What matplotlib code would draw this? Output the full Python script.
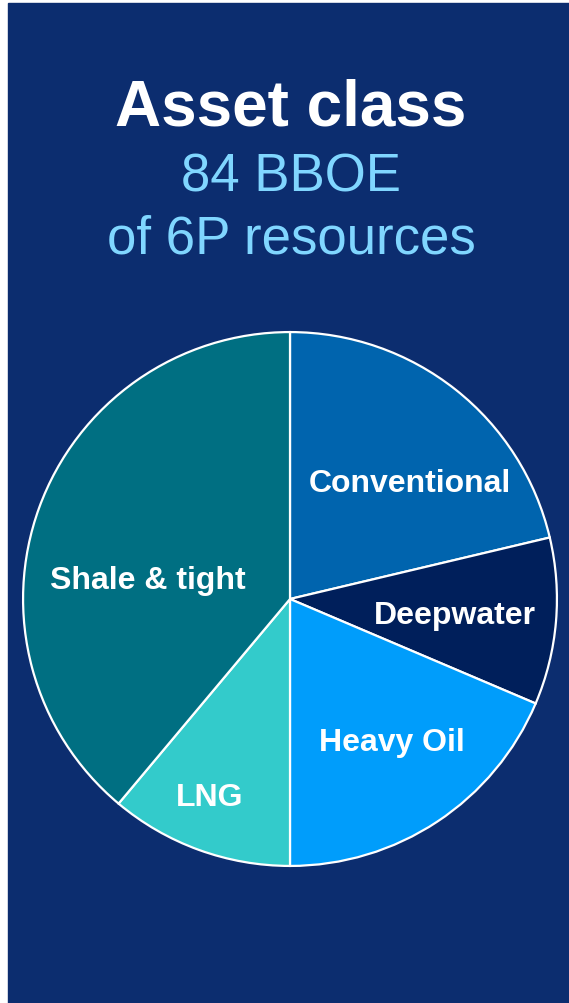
import matplotlib.pyplot as plt
from matplotlib.patches import Rectangle

plt.rcParams['font.family'] = ['Liberation Sans', 'DejaVu Sans']

# parts of the 84 BBOE, clockwise from the top
categories = ['Conventional', 'Deepwater', 'Heavy Oil', 'LNG', 'Shale & tight']
shares = [21.3, 10.1, 18.6, 11.1, 38.9]
colours = ['#0064AE', '#001F5B', '#009DFB', '#33CBCB', '#006F82']
# where each label sits, in pie units (radius = 1)
label_xy = [(0.448, 0.434), (0.616, -0.059), (0.381, -0.536),
            (-0.302, -0.741), (-0.534, 0.072)]

W, H = 569, 1004
fig = plt.figure(figsize=(W / 100, H / 100), dpi=100, facecolor='white')

# dark blue panel, small white margin on the left and top
fig.patches.append(Rectangle((8 / W, 0), 1 - 8 / W, 1 - 4 / H,
                             transform=fig.transFigure, color='#0C2D6F', zorder=-1))

fig.text(291 / W, 1 - 125 / H, 'Asset class', color='white', fontsize=46,
         fontweight='bold', ha='center', va='baseline')
fig.text(291 / W, 1 - 191 / H, '84 BBOE', color='#80D6FF', fontsize=38,
         ha='center', va='baseline')
fig.text(291 / W, 1 - 254 / H, 'of 6P resources', color='#80D6FF', fontsize=38,
         ha='center', va='baseline')

cx, cy, r = 290, 600, 268
ax = fig.add_axes([(cx - r) / W, (H - cy - r) / H, 2 * r / W, 2 * r / H])
ax.pie(shares, colors=colours, startangle=90, counterclock=False,
       wedgeprops=dict(edgecolor='white', linewidth=1.6))
ax.set_xlim(-1.004, 1.004)
ax.set_ylim(-1.004, 1.004)
ax.set_aspect('equal')
ax.axis('off')

for name, (x, y) in zip(categories, label_xy):
    ax.text(x, y, name, color='white', fontsize=23, fontweight='bold',
            ha='center', va='center')

fig.savefig('out.png', dpi=100, facecolor=fig.get_facecolor())
